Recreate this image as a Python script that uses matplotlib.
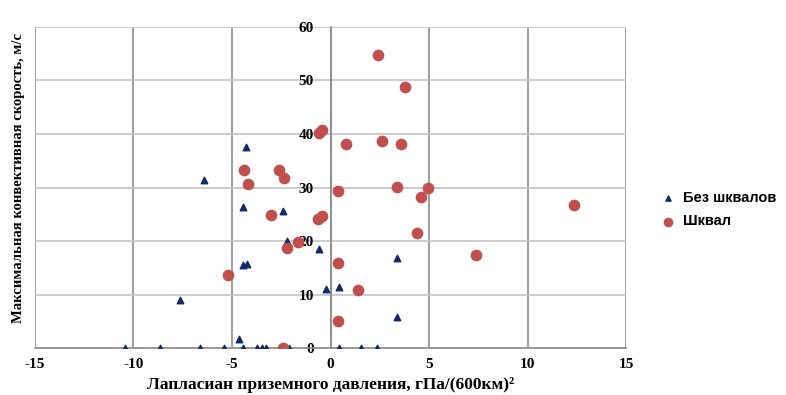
import numpy as np
import matplotlib
matplotlib.use("Agg")
import matplotlib.pyplot as plt

# Без шквалов (треугольники)
no_sq_x = [-6.42, -4.29, -4.42, -2.42, -2.23, -0.59, -4.42, -4.25, -7.63, -0.22, 0.42,
           -4.62, 3.35, 3.35,
           -10.43, -8.65, -6.63, -5.43, -4.42, -3.71, -3.47, -3.25, -2.13, 0.42, 1.57, 2.35]
no_sq_y = [31.4, 37.6, 26.4, 25.7, 20.0, 18.5, 15.5, 15.7, 9.1, 11.0, 11.4,
           1.7, 16.8, 5.9,
           0, 0, 0, 0, 0, 0, 0, 0, 0, 0, 0, 0]

# Шквал (круги)
sq_x = [2.40, 3.77, -0.59, -0.41, 0.78, 2.61, 3.57, -4.39, -2.61, -2.37, -4.21,
        0.39, 3.35, 4.97, 4.58, 12.35, -3.03, -0.63, -0.41, -1.64, -2.20, 4.40,
        7.38, 0.39, -5.21, 1.39, 0.39, -2.41]
sq_y = [54.7, 48.8, 40.1, 40.7, 38.2, 38.7, 38.2, 33.3, 33.3, 31.8, 30.6,
        29.4, 30.1, 30.0, 28.3, 26.7, 24.9, 24.1, 24.7, 19.8, 18.8, 21.5,
        17.5, 16.0, 13.6, 10.9, 5.1, 0]

xticks = [-15, -10, -5, 0, 5, 10, 15]
yticks = [0, 10, 20, 30, 40, 50, 60]

serif = "Liberation Serif"
plt.rcParams["axes.unicode_minus"] = False

fig = plt.figure(figsize=(7.86, 3.95), dpi=100)
ax = fig.add_axes([0.0445, 0.1182, 0.752, 0.8142])

ax.scatter(no_sq_x, no_sq_y, marker="^", s=22, color="#0F2A6B", label="Без шквалов", zorder=3)
ax.scatter(sq_x, sq_y, marker="o", s=55, color="#C0504D", label="Шквал", zorder=3)

ax.set_xlim(-15, 15)
ax.set_ylim(0, 60)
ax.set_xticks(xticks)
ax.set_yticks(yticks)

ax.grid(axis="x", color="#8c8c8c", lw=1.2)
ax.grid(axis="y", color="#c4c4c4", lw=1.2)
ax.set_axisbelow(True)

for s in ["top", "right"]:
    ax.spines[s].set_visible(False)
ax.spines["bottom"].set_color("#8c8c8c")
ax.spines["bottom"].set_linewidth(1.2)
ax.spines["left"].set_position(("data", 0))
ax.spines["left"].set_color("#8c8c8c")
ax.spines["left"].set_linewidth(1.2)

ax.tick_params(axis="x", length=0, pad=7)
ax.tick_params(axis="y", length=0, pad=12)
for lab in ax.get_xticklabels() + ax.get_yticklabels():
    lab.set_fontfamily(serif)
    lab.set_fontweight("bold")
    lab.set_fontsize(11)

ax.set_xlabel("Лапласиан приземного давления, гПа/(600км)²", family=serif,
              fontweight="bold", fontsize=12.5, labelpad=4)
fig.text(0.023, 0.55, "Максимальная конвективная скорость, м/с", family=serif,
         fontweight="bold", fontsize=10.5, rotation=90, ha="center", va="center")

leg = fig.legend(loc="upper left", bbox_to_anchor=(0.815, 0.55), frameon=False,
                 prop={"family": "Liberation Sans", "weight": "bold", "size": 10.5},
                 handletextpad=0.0, labelspacing=0.65, markerscale=0.8)

fig.savefig("out.png", dpi=100)
